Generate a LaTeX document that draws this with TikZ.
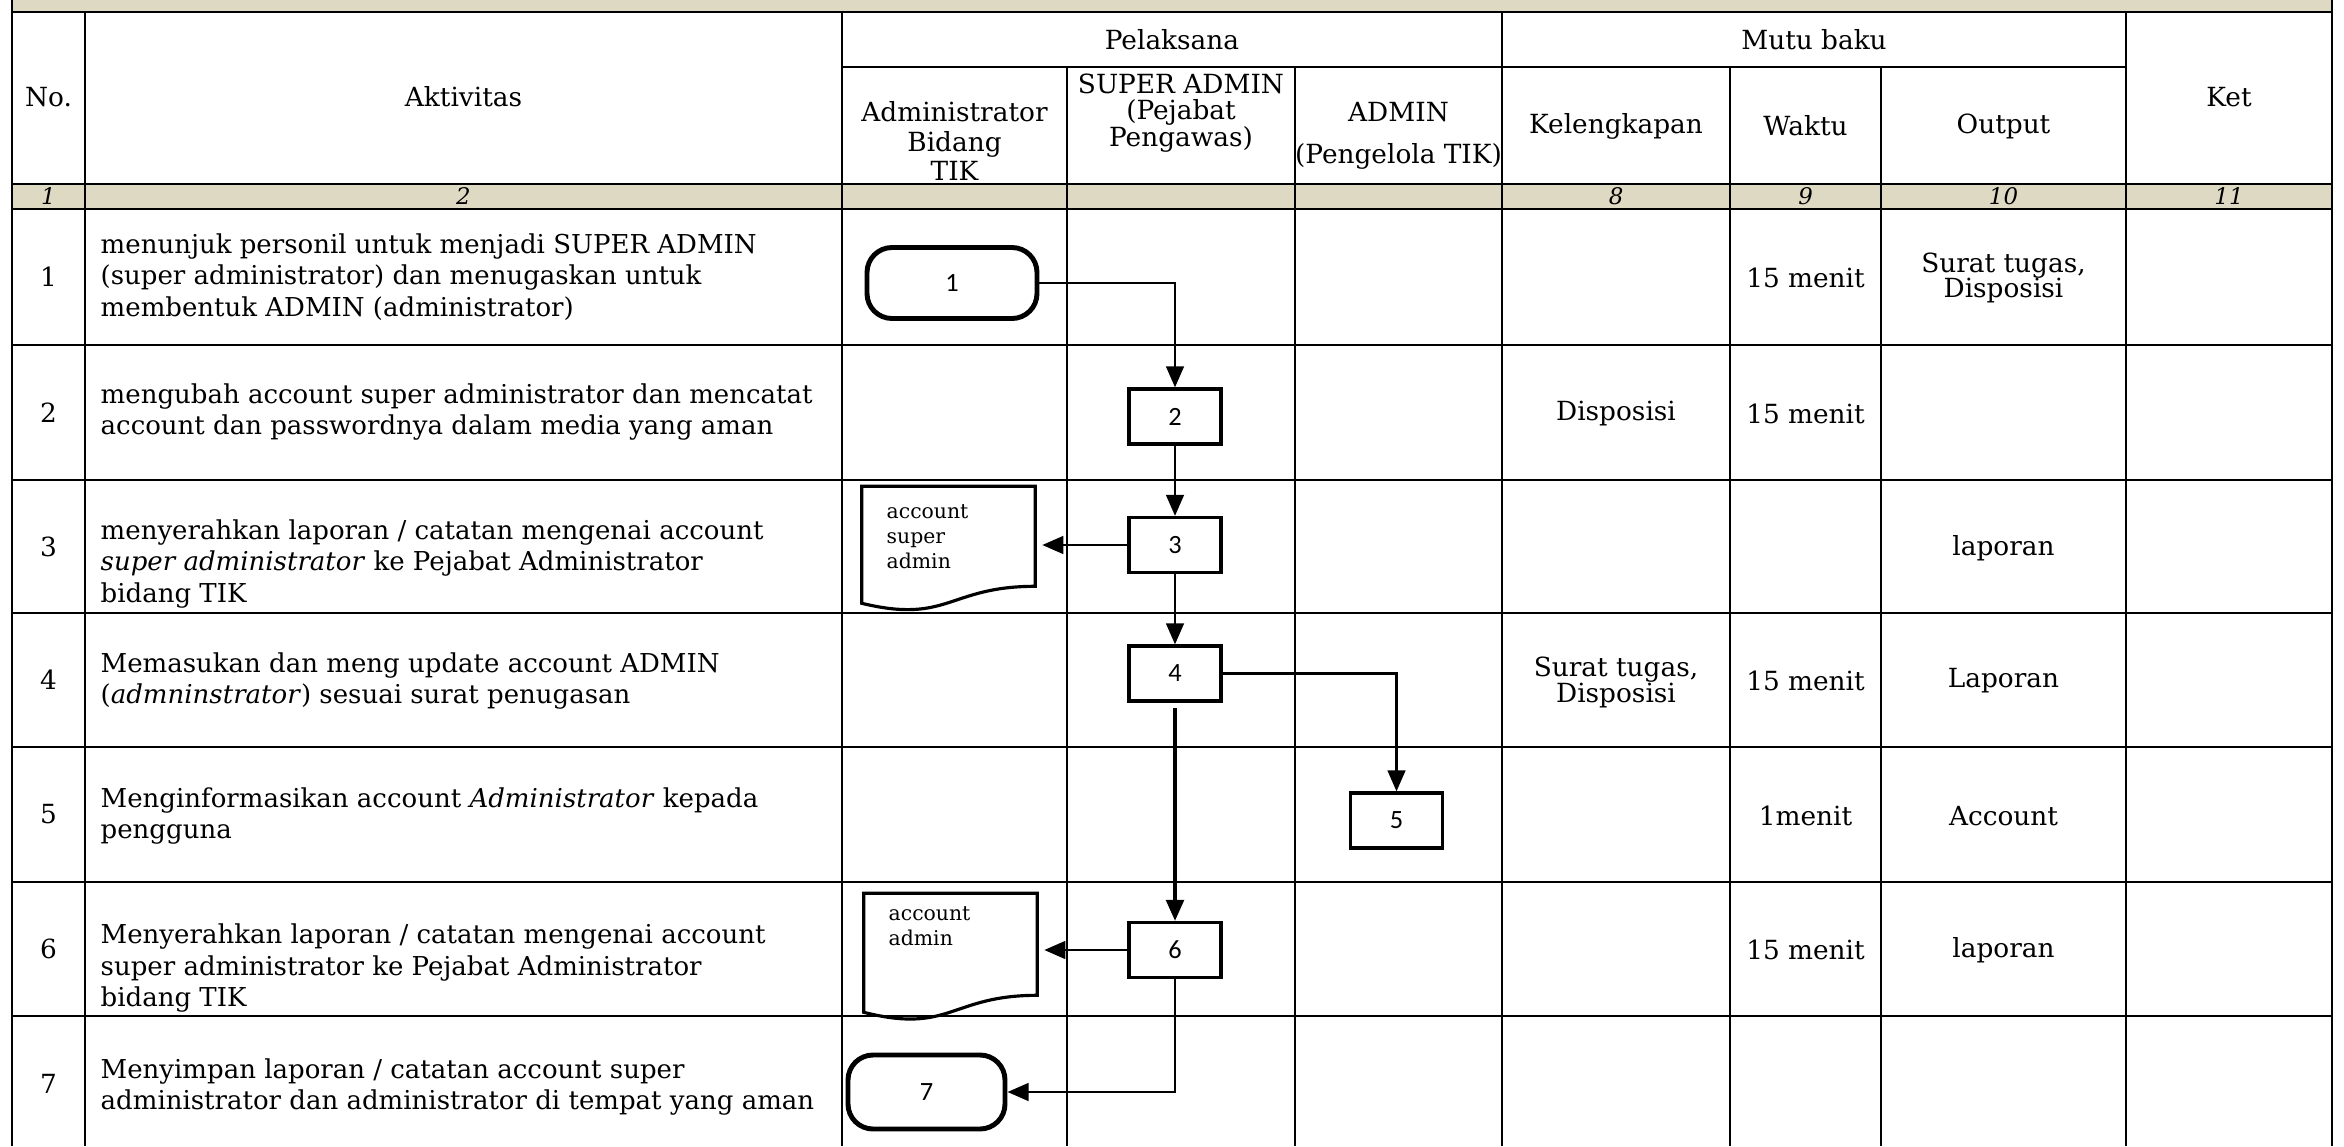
\documentclass[tikz,border=0pt]{standalone}
\usepackage{fontspec}
\setmainfont{DejaVu Serif}
\newfontfamily\boxfont{Carlito}
\usetikzlibrary{arrows.meta,calc}
\definecolor{headtan}{RGB}{221,217,195}

\begin{document}
\begin{tikzpicture}[x=1cm,y=-1cm,>={Stealth[length=6pt,width=5pt,inset=0pt]},
    tabline/.style={line width=0.8pt},
    cell/.style={inner sep=0pt,align=center,font=\fontsize{7.5}{9}\selectfont},
    twoline/.style={inner sep=0pt,align=center,font=\fontsize{7.5}{7.2}\selectfont},
    colno/.style={inner sep=0pt,font=\fontsize{6.5}{7}\selectfont\itshape},
    act/.style={inner sep=0pt,anchor=west,align=left,font=\fontsize{7.4}{9}\selectfont},
    proc/.style={draw,line width=0.9pt,minimum width=0.92cm,minimum height=0.55cm,inner sep=0pt,font=\boxfont\fontsize{7.5}{9}\selectfont},
    term/.style={draw,line width=1.4pt,rounded corners=0.25cm,inner sep=0pt,font=\boxfont\fontsize{7.5}{9}\selectfont},
    docu/.style={minimum width=1.72cm,inner sep=0pt},
    doctext/.style={inner sep=0pt,anchor=north west,align=left,font=\fontsize{5.8}{7.1}\selectfont},
    flow/.style={->,line width=0.8pt}]
    \useasboundingbox (0,0) rectangle (23.44,11.46);

    % bands
    \fill[headtan] (0.12,0) rectangle (23.32,0.12);
    \fill[headtan] (0.12,1.84) rectangle (23.32,2.09);

    % table
    \draw[tabline] (0.12,0) -- (0.12,11.46) (23.32,0) -- (23.32,11.46);
    \draw[tabline] (0.85,0.12) -- (0.85,11.46) (8.42,0.12) -- (8.42,11.46) (15.02,0.12) -- (15.02,11.46) (21.26,0.12) -- (21.26,11.46);
    \draw[tabline] (10.67,0.67) -- (10.67,11.46) (12.95,0.67) -- (12.95,11.46) (17.30,0.67) -- (17.30,11.46) (18.81,0.67) -- (18.81,11.46);
    \draw[tabline] (8.42,0.67) -- (21.26,0.67);
    \draw[tabline] (0.12,0.12) -- (23.32,0.12) (0.12,1.84) -- (23.32,1.84) (0.12,2.09) -- (23.32,2.09);
    \draw[tabline] (0.12,3.45) -- (23.32,3.45) (0.12,4.80) -- (23.32,4.80) (0.12,6.13) -- (23.32,6.13);
    \draw[tabline] (0.12,7.47) -- (23.32,7.47) (0.12,8.82) -- (23.32,8.82) (0.12,10.16) -- (23.32,10.16);

    % header
    \node[cell] (hno) at (0.485,0.97) {No.};
    \node[cell] (hakt) at (4.635,0.97) {Aktivitas};
    \node[cell] (hpel) at (11.72,0.40) {Pelaksana};
    \node[cell] (hmutu) at (18.14,0.40) {Mutu baku};
    \node[cell] (hket) at (22.29,0.97) {Ket};
    \node[twoline,font=\fontsize{7.5}{8.4}\selectfont] (hadm) at (9.545,1.41) {Administrator\\Bidang\\TIK};
    \node[twoline,font=\fontsize{7.5}{7.6}\selectfont] (hsup) at (11.81,1.13) {SUPER ADMIN\\(Pejabat\\Pengawas)};
    \node[cell] (hadmin) at (13.985,1.36) {ADMIN\\[3pt](Pengelola TIK)};
    \node[cell] (hkel) at (16.16,1.26) {Kelengkapan};
    \node[cell] (hwkt) at (18.055,1.26) {Waktu};
    \node[cell] (hout) at (20.035,1.26) {Output};

    % column numbers
    \node[colno] (c1) at (0.485,1.965) {1};
    \node[colno] (c2) at (4.635,1.965) {2};
    \node[colno] (c8) at (16.16,1.965) {8};
    \node[colno] (c9) at (18.055,1.965) {9};
    \node[colno] (c10) at (20.035,1.965) {10};
    \node[colno] (c11) at (22.29,1.965) {11};

    % rows
    \node[cell] (n1) at (0.485,2.77) {1};
    \node[cell] (n2) at (0.485,4.125) {2};
    \node[cell] (n3) at (0.485,5.465) {3};
    \node[cell] (n4) at (0.485,6.80) {4};
    \node[cell] (n5) at (0.485,8.145) {5};
    \node[cell] (n6) at (0.485,9.49) {6};
    \node[cell] (n7) at (0.485,10.84) {7};

    \node[act] (a1) at (1.00,2.77) {menunjuk personil untuk menjadi SUPER ADMIN\\(super administrator) dan menugaskan untuk\\membentuk ADMIN (administrator)};
    \node[act] (a2) at (1.00,4.12) {mengubah account super administrator dan mencatat\\account dan passwordnya dalam media yang aman};
    \node[act] (a3) at (1.00,5.64) {menyerahkan laporan / catatan mengenai account\\\textit{super administrator} ke Pejabat Administrator\\bidang TIK};
    \node[act] (a4) at (1.00,6.81) {Memasukan dan meng update account ADMIN\\(\textit{admninstrator}) sesuai surat penugasan};
    \node[act] (a5) at (1.00,8.16) {Menginformasikan account \textit{Administrator} kepada\\pengguna};
    \node[act] (a6) at (1.00,9.68) {Menyerahkan laporan / catatan mengenai account\\super administrator ke Pejabat Administrator\\bidang TIK};
    \node[act] (a7) at (1.00,10.87) {Menyimpan laporan / catatan account super\\administrator dan administrator di tempat yang aman};

    % mutu baku
    \node[cell] (k2) at (16.16,4.14) {Disposisi};
    \node[twoline] (k4) at (16.16,6.825) {Surat tugas,\\Disposisi};
    \node[cell] (w1) at (18.055,2.78) {15 menit};
    \node[cell] (w2) at (18.055,4.14) {15 menit};
    \node[cell] (w4) at (18.055,6.81) {15 menit};
    \node[cell] (w5) at (18.055,8.16) {1menit};
    \node[cell] (w6) at (18.055,9.50) {15 menit};
    \node[twoline] (o1) at (20.035,2.78) {Surat tugas,\\Disposisi};
    \node[cell] (o3) at (20.035,5.48) {laporan};
    \node[cell] (o4) at (20.035,6.81) {Laporan};
    \node[cell] (o5) at (20.035,8.16) {Account};
    \node[cell] (o6) at (20.035,9.50) {laporan};

    % flow
    \node[term,minimum width=1.70cm,minimum height=0.71cm] (t1) at (9.52,2.83) {1};
    \node[proc] (b2) at (11.75,4.165) {2};
    \node[proc] (b3) at (11.75,5.45) {3};
    \node[proc] (b4) at (11.75,6.735) {4};
    \node[proc] (b5) at (13.965,8.205) {5};
    \node[proc] (b6) at (11.75,9.50) {6};
    \node[term,minimum width=1.57cm,minimum height=0.74cm] (t7) at (9.265,10.92) {7};

    \node[docu,minimum height=1.25cm] (d3) at (9.485,5.495) {};
    \draw[line width=0.9pt] (d3.north west) -- (d3.north east) -- ($(d3.north east)+(0,1.00)$)
        .. controls ($(d3.north)+(0,1.00)$) and ($(d3.north)+(0,1.38)$) .. ($(d3.north west)+(0,1.17)$) -- cycle;
    \node[doctext] (d3t) at (8.86,5.04) {account\\super\\admin};

    \node[docu,minimum height=1.27cm] (d6) at (9.505,9.575) {};
    \draw[line width=0.9pt] (d6.north west) -- (d6.north east) -- ($(d6.north east)+(0,1.02)$)
        .. controls ($(d6.north)+(0,1.02)$) and ($(d6.north)+(0,1.41)$) .. ($(d6.north west)+(0,1.19)$) -- cycle;
    \node[doctext] (d6t) at (8.88,9.06) {account\\admin};

    \draw[flow] (t1.east) -| (b2.north);
    \draw[flow] (b2) -- (b3);
    \draw[flow,shorten >=2pt] (b3.west) -- (b3.west -| d3.east);
    \draw[flow] (b3) -- (b4);
    \draw[flow] (b4.east) -| (b5.north);
    \draw[flow,line width=1.1pt,shorten <=1.5pt] (b4) -- (b6);
    \draw[flow,shorten >=2pt] (b6.west) -- (b6.west -| d6.east);
    \draw[flow] (b6.south) |- (t7.east);
\end{tikzpicture}
\end{document}
